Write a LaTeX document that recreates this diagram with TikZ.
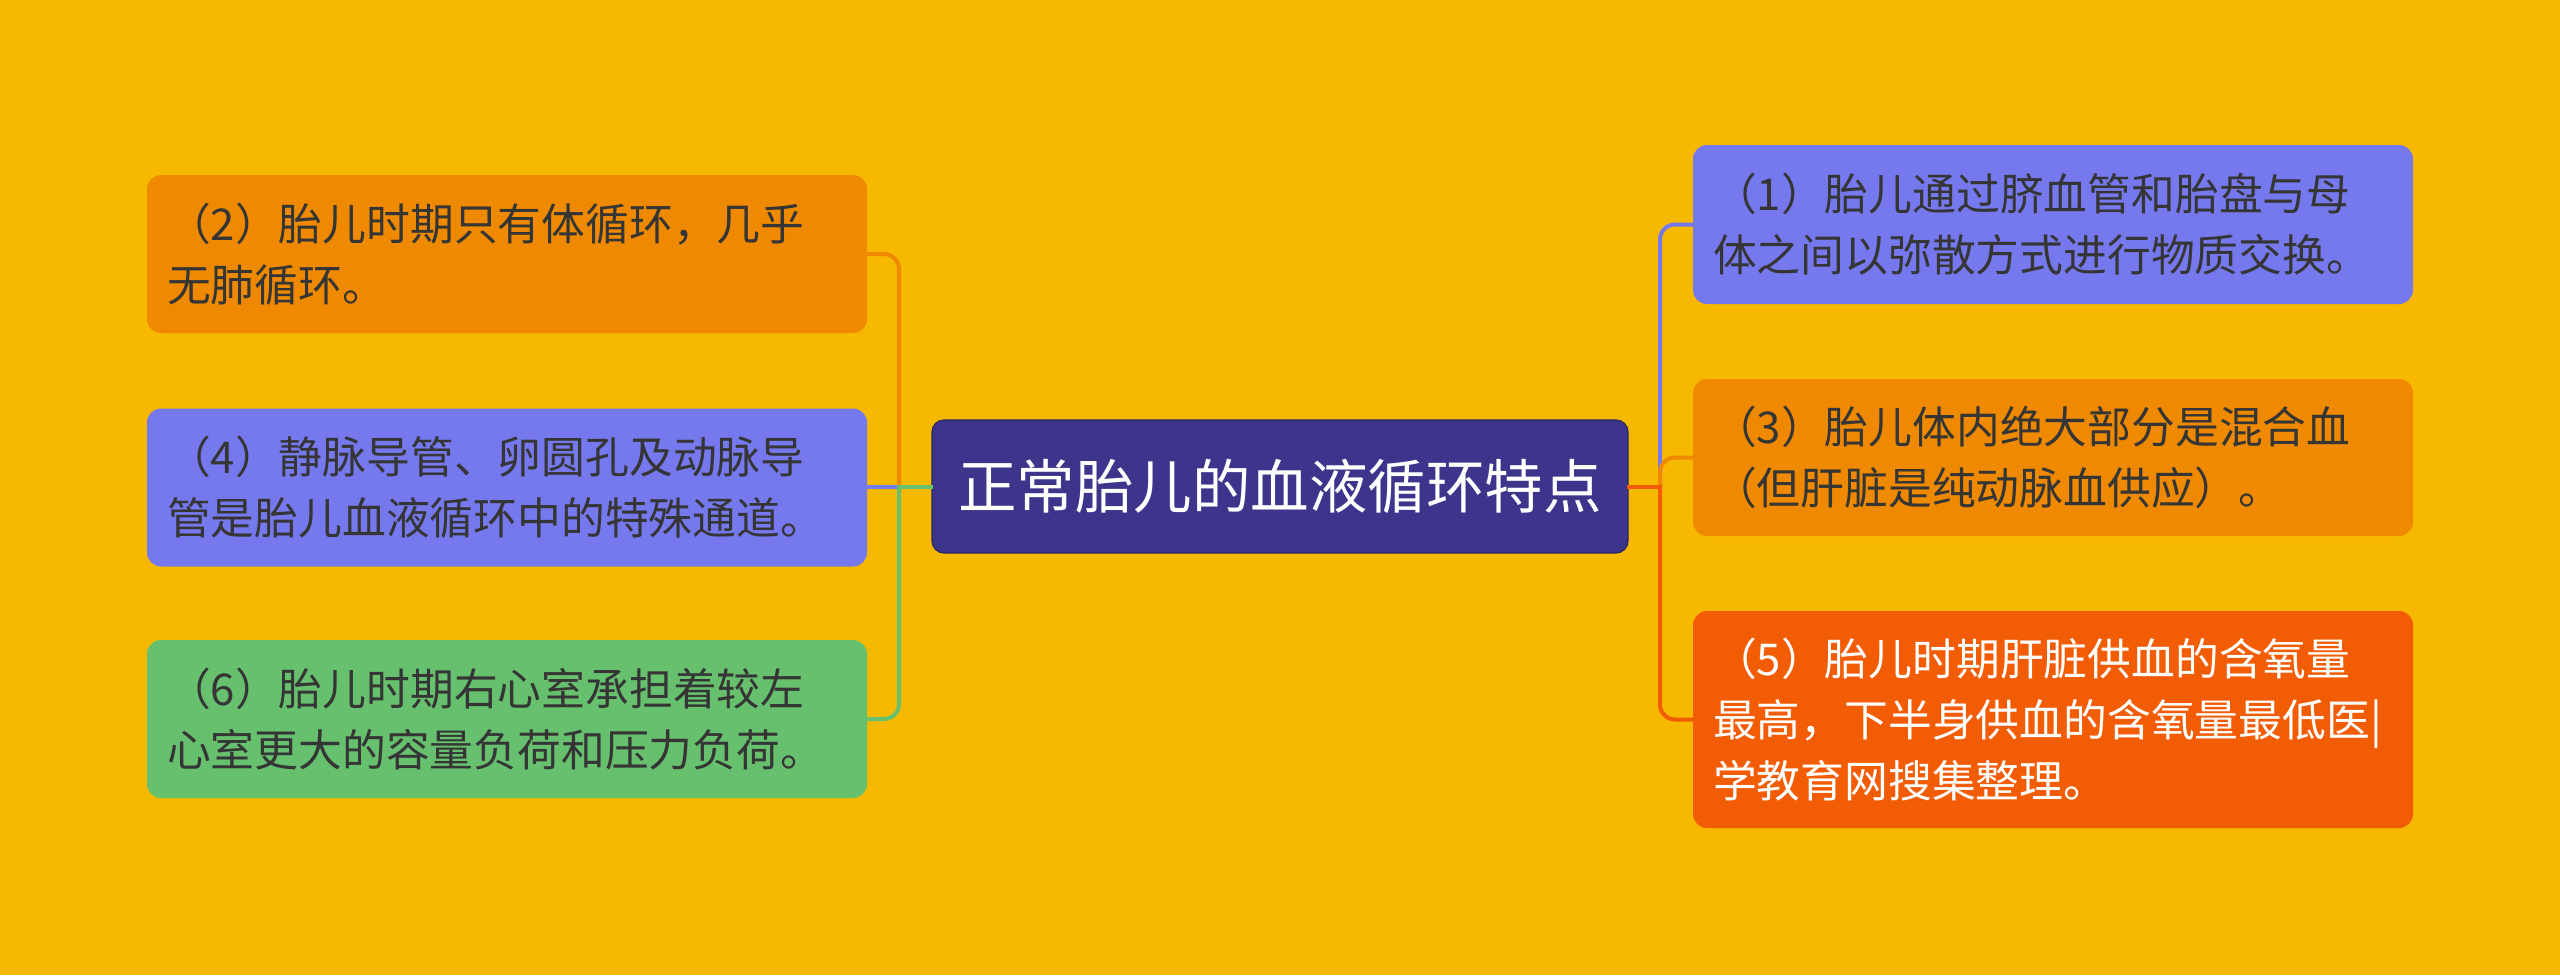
\documentclass[tikz,border=0pt]{standalone}
\usepackage{fontspec}
\setmainfont{Noto Sans CJK SC}
\definecolor{bg}{HTML}{F6B900}
\definecolor{orangebox}{HTML}{EF8A00}
\definecolor{bluebox}{HTML}{7679EE}
\definecolor{greenbox}{HTML}{66C06E}
\definecolor{redbox}{HTML}{F25C05}
\definecolor{centerbox}{HTML}{3D358B}
\definecolor{centeredge}{HTML}{2C2666}
\definecolor{txt}{HTML}{353535}
\begin{document}
\begin{tikzpicture}[x=1pt,y=-1pt,
  leaf/.style={rectangle, rounded corners=14pt, minimum width=720pt, minimum height=158pt,
    text width=680pt, inner xsep=20pt, align=left, text=txt,
    font=\fontsize{43.8}{61}\selectfont},
  conn/.style={line width=4pt, line cap=rect},
  rconn/.style={line width=4pt, line cap=rect, rounded corners=15pt}]
\fill[bg] (0,0) rectangle (2560,975);
\useasboundingbox (0,0) rectangle (2560,975);

\node[rectangle, rounded corners=12pt, fill=centerbox, draw=centeredge, line width=1.2pt,
  minimum width=696pt, minimum height=133pt, text=white,
  font=\fontsize{58.5}{70}\selectfont] (c) at (1280,486.5) {正常胎儿的血液循环特点};

\node[leaf, fill=orangebox] (b2) at (507,254) {（2）胎儿时期只有体循环，几乎\\无肺循环。};
\node[leaf, fill=bluebox] (b4) at (507,487.5) {（4）静脉导管、卵圆孔及动脉导\\管是胎儿血液循环中的特殊通道。};
\node[leaf, fill=greenbox] (b6) at (507,719) {（6）胎儿时期右心室承担着较左\\心室更大的容量负荷和压力负荷。};

\node[leaf, fill=bluebox, minimum height=159pt] (b1) at (2053,224.5) {（1）胎儿通过脐血管和胎盘与母\\体之间以弥散方式进行物质交换。};
\node[leaf, fill=orangebox, minimum height=157pt] (b3) at (2053,457.5) {（3）胎儿体内绝大部分是混合血\\（但肝脏是纯动脉血供应）。};
\node[leaf, fill=redbox, minimum height=217pt, text=white] (b5) at (2053,719.5) {（5）胎儿时期肝脏供血的含氧量\\最高，下半身供血的含氧量最低医|\\学教育网搜集整理。};

\coordinate (jl) at (899,487);
\coordinate (jr) at (1660,487);

% left side
\draw[conn, orangebox] (c.west |- jl) -- (jl);
\draw[rconn, orangebox] (jl) |- (b2.east);
\draw[conn, bluebox] (c.west |- jl) -- (jl);
\draw[conn, bluebox] (jl) -- (b4.east |- jl);
\draw[conn, greenbox] (c.west |- jl) -- (jl);
\draw[rconn, greenbox] (jl) |- (b6.east);

% right side
\draw[conn, bluebox] (c.east |- jr) -- (jr);
\draw[rconn, bluebox] (jr) |- (b1.west);
\draw[conn, orangebox] (c.east |- jr) -- (jr);
\draw[rconn, orangebox] (jr) |- (b3.west);
\draw[conn, redbox] (c.east |- jr) -- (jr);
\draw[rconn, redbox] (jr) |- (b5.west);
\end{tikzpicture}
\end{document}
